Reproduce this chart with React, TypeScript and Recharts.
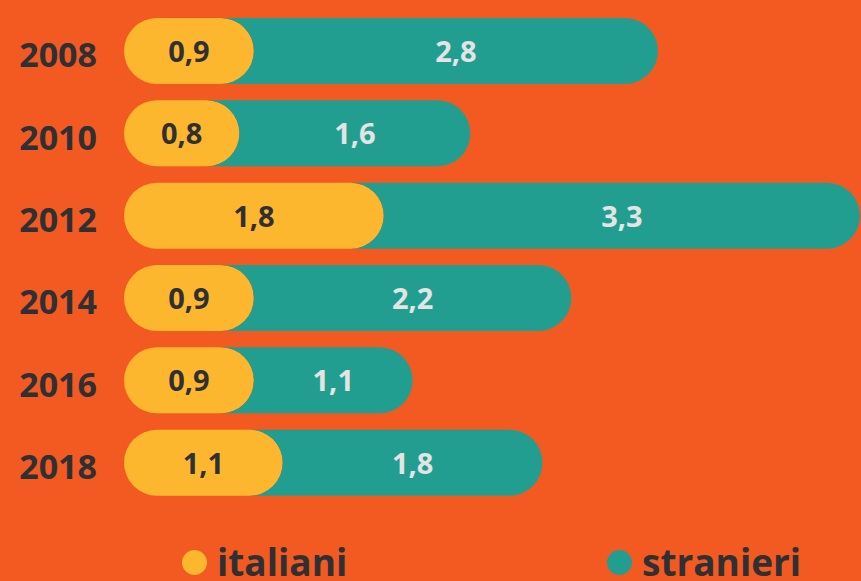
import { BarChart, Bar, XAxis, YAxis, Legend, LabelList } from 'recharts';

const BG = '#F25A22';
const YELLOW = '#FDB72F';
const TEAL = '#229E91';
const DARK = '#2F3033';
const FONT = '"Open Sans", sans-serif';

const years = ['2008', '2010', '2012', '2014', '2016', '2018'];
const italiani = [0.9, 0.8, 1.8, 0.9, 0.9, 1.1];
const stranieri = [2.8, 1.6, 3.3, 2.2, 1.1, 1.8];

const data = years.map((year, i) => ({ year, italiani: italiani[i], stranieri: stranieri[i] }));

const fmt = (v: number) => v.toFixed(1).replace('.', ',');

// teal segment: concave on the left so it tucks under the rounded yellow end
function StranieriShape(p: any) {
  const { x, y, width, height, fill } = p;
  const r = height / 2;
  const d = `M${x - r},${y} L${x + width - r},${y} A${r},${r} 0 0 1 ${x + width - r},${y + height} L${x - r},${y + height} A${r},${r} 0 0 0 ${x - r},${y} Z`;
  return <path d={d} fill={fill} />;
}

function YearTick({ y, payload }: any) {
  return (
    <text x={97} y={y} dy={16} textAnchor="end" fontSize={34} fontWeight={700} fill={DARK} fontFamily={FONT}>
      {payload.value}
    </text>
  );
}

const valueLabel = (color: string) => (p: any) => {
  const { x, y, width, height, value } = p;
  return (
    <text
      x={x + width / 2}
      y={y + height / 2}
      dy={11}
      textAnchor="middle"
      fontSize={29}
      fontWeight={700}
      fill={color}
      fontFamily={FONT}
    >
      {fmt(value)}
    </text>
  );
};

const LEGEND_LEFT: Record<string, number> = { italiani: 182, stranieri: 607 };

function renderLegend({ payload }: any) {
  return (
    <div style={{ position: 'relative', height: 0 }}>
      {(payload || []).map((item: any) => (
        <div
          key={item.value}
          style={{
            position: 'absolute',
            left: LEGEND_LEFT[item.value],
            top: 543,
            display: 'flex',
            alignItems: 'flex-start',
            whiteSpace: 'nowrap',
          }}
        >
          <span
            style={{
              width: 25,
              height: 25,
              borderRadius: '50%',
              background: item.color,
              marginTop: 6.5,
              marginRight: 10,
            }}
          />
          <span style={{ fontFamily: FONT, fontWeight: 700, fontSize: 37, lineHeight: '37px', color: DARK }}>
            {item.value}
          </span>
        </div>
      ))}
    </div>
  );
}

export default function App() {
  return (
    <div
      style={{
        position: 'absolute',
        left: 0,
        top: 0,
        width: 861,
        height: 581,
        background: BG,
        overflow: 'hidden',
      }}
    >
      <BarChart
        width={861}
        height={581}
        data={data}
        layout="vertical"
        margin={{ top: 10, right: 1, left: 0, bottom: 77 }}
      >
        <XAxis type="number" domain={[0, 5.1]} hide />
        <YAxis
          type="category"
          dataKey="year"
          width={124}
          axisLine={false}
          tickLine={false}
          tick={<YearTick />}
        />
        <Legend
          content={renderLegend}
          verticalAlign="bottom"
          wrapperStyle={{ left: 0, top: 0, width: 861, height: 0 }}
        />
        <Bar dataKey="italiani" stackId="a" fill={YELLOW} barSize={66} radius={33} isAnimationActive={false}>
          <LabelList dataKey="italiani" content={valueLabel(DARK)} />
        </Bar>
        <Bar dataKey="stranieri" stackId="a" fill={TEAL} barSize={66} shape={StranieriShape} isAnimationActive={false}>
          <LabelList dataKey="stranieri" content={valueLabel('#E4E4E4')} />
        </Bar>
      </BarChart>
    </div>
  );
}
